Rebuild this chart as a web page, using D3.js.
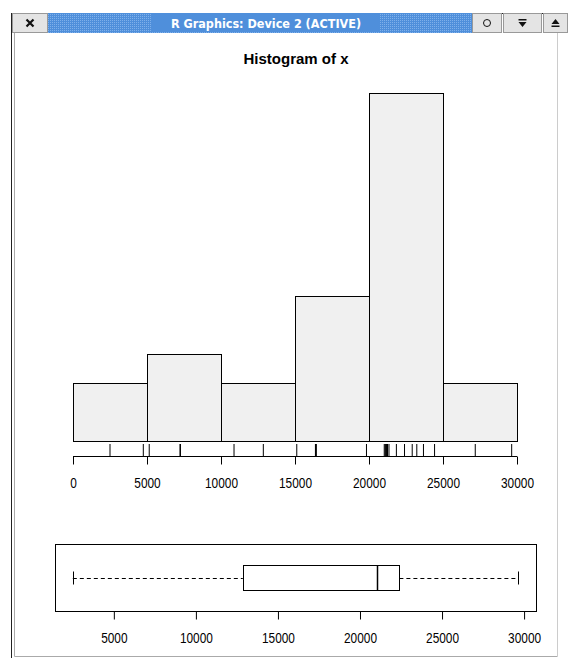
<!DOCTYPE html>
<html>
	<head>
		<meta charset="utf-8">
		<style>
			body { margin: 0; background: #fff; }
			svg { display: block; }
		</style>
	</head>
	<body>
		<script src="https://cdn.jsdelivr.net/npm/d3@7/dist/d3.min.js" charset="utf-8"></script>
		<script>
			// sample values
			var values = [2500, 4750, 5150, 7230, 7260, 10880, 12860, 15120, 16380, 16410, 16440, 19830,
				21030, 21090, 21130, 21180, 21250, 21350, 21850, 22400, 22920, 23230, 23680, 24430, 27180, 29640];
			var breaks = [0, 5000, 10000, 15000, 20000, 25000, 30000];
			var histTicks = [0, 5000, 10000, 15000, 20000, 25000, 30000];
			var boxTicks = [5000, 10000, 15000, 20000, 25000, 30000];
			var windowTitle = "R Graphics: Device 2 (ACTIVE)";
			var plotTitle = "Histogram of x";

			var width = 568;
			var height = 658;
			var labelFont = "'Liberation Sans', Arial, sans-serif";

			var svg = d3.select("body")
						.append("svg")
						.attr("width", width)
						.attr("height", height);

			//window frame
			var defs = svg.append("defs");
			var pat = defs.append("pattern")
						.attr("id", "dots")
						.attr("width", 2)
						.attr("height", 2)
						.attr("patternUnits", "userSpaceOnUse");
			pat.append("rect").attr("width", 2).attr("height", 2).attr("fill", "#4f8fdb");
			pat.append("rect").attr("width", 1).attr("height", 1).attr("fill", "#7fb0ea");

			svg.append("rect")
				.attr("x", 11.5).attr("y", 13.5)
				.attr("width", 560).attr("height", 650)
				.attr("fill", "#fff").attr("stroke", "#222");
			svg.append("line")
				.attr("x1", 14.5).attr("x2", 14.5).attr("y1", 33).attr("y2", 656.5)
				.attr("stroke", "#aaa");
			svg.append("line")
				.attr("x1", 14.5).attr("x2", 557.5).attr("y1", 656.5).attr("y2", 656.5)
				.attr("stroke", "#aaa");
			svg.append("line")
				.attr("x1", 557.5).attr("x2", 557.5).attr("y1", 33).attr("y2", 656.5)
				.attr("stroke", "#ccc");

			//title bar
			svg.append("rect")
				.attr("x", 48).attr("y", 13)
				.attr("width", 424).attr("height", 20)
				.attr("fill", "url(#dots)");
			svg.append("rect")
				.attr("x", 152).attr("y", 14)
				.attr("width", 228).attr("height", 18)
				.attr("fill", "#4f8fdb");
			svg.append("text")
				.attr("x", 266).attr("y", 28)
				.attr("text-anchor", "middle")
				.attr("fill", "#fff")
				.attr("font-family", "'DejaVu Sans Condensed', sans-serif")
				.attr("font-weight", "bold")
				.attr("font-size", "12.5px")
				.text(windowTitle);

			var buttons = [
				{x: 12, w: 36, t: "close"},
				{x: 472, w: 30, t: "circle"},
				{x: 503, w: 39, t: "down"},
				{x: 543, w: 25, t: "up"}
			];
			var btn = svg.selectAll("g.btn").data(buttons).enter()
						.append("g").attr("class", "btn")
						.attr("transform", function(d) {return "translate(" + (d.x + d.w/2) + ",23)";});
			btn.append("rect")
				.attr("x", function(d) {return -d.w/2 + 0.5;})
				.attr("y", -9.5)
				.attr("width", function(d) {return d.w - 1;})
				.attr("height", 19)
				.attr("fill", "#e4e4e4")
				.attr("stroke", "#999");
			btn.each(function(d) {
				var g = d3.select(this);
				if (d.t == "close") {
					g.append("path").attr("d", "M-3.5,-3.5L3.5,3.5M3.5,-3.5L-3.5,3.5")
						.attr("stroke", "#111").attr("stroke-width", 2.2);
				} else if (d.t == "circle") {
					g.append("circle").attr("r", 3.5).attr("fill", "none").attr("stroke", "#111");
				} else if (d.t == "down") {
					g.append("path").attr("d", "M-4,-4H4V-2.5H-4Z M-4,-1H4L0,4Z").attr("fill", "#111");
				} else {
					g.append("path").attr("d", "M-4,1H4L0,-4Z M-4,2.5H4V4H-4Z").attr("fill", "#111");
				}
			});

			//histogram
			var x = d3.scaleLinear().domain([0, 30000]).range([73, 517]);
			var bins = d3.bin().domain([0, 30000]).thresholds(breaks.slice(1, -1))(values);
			var y = d3.scaleLinear().domain([0, 12]).range([441, 93]);

			svg.append("text")
				.attr("x", 296).attr("y", 64)
				.attr("text-anchor", "middle")
				.attr("font-family", "'Liberation Sans', Arial, sans-serif")
				.attr("font-weight", "bold")
				.attr("font-size", "15px")
				.text(plotTitle);

			svg.selectAll("rect.bar")
				.data(bins)
				.enter()
				.append("rect")
				.attr("class", "bar")
				.attr("x", function(d) {return Math.round(x(d.x0)) + 0.5;})
				.attr("y", function(d) {return Math.round(y(d.length)) + 0.5;})
				.attr("width", function(d) {return Math.round(x(d.x1)) - Math.round(x(d.x0));})
				.attr("height", function(d) {return Math.round(y(0)) - Math.round(y(d.length));})
				.attr("fill", "#f0f0f0")
				.attr("stroke", "#000");

			//rug
			svg.selectAll("line.rug")
				.data(values)
				.enter()
				.append("line")
				.attr("class", "rug")
				.attr("x1", function(d) {return x(d);})
				.attr("x2", function(d) {return x(d);})
				.attr("y1", 444)
				.attr("y2", 456)
				.attr("stroke", "#000")
				.attr("stroke-width", 1);

			var histAxis = svg.append("g")
						.attr("transform", "translate(0,456.5)")
						.call(d3.axisBottom(x).tickValues(histTicks).tickSize(8).tickFormat(d3.format("d")));

			//boxplot
			var ext = d3.extent(values);
			var pad = (ext[1] - ext[0]) * 0.04;
			var bx = d3.scaleLinear().domain([ext[0] - pad, ext[1] + pad]).range([55, 536]);
			var sorted = values.slice().sort(d3.ascending);
			var n = sorted.length;
			// Tukey hinges like R's fivenum
			var n4 = Math.floor((n + 3) / 2) / 2;
			var idx = [1, n4, (n + 1) / 2, n + 1 - n4, n];
			var five = idx.map(function(i) {
				return 0.5 * (sorted[Math.floor(i) - 1] + sorted[Math.ceil(i) - 1]);
			});
			var by = d3.scaleLinear().domain([0, 1]).range([611, 544]);

			svg.append("rect")
				.attr("x", 55.5).attr("y", 544.5)
				.attr("width", 481).attr("height", 67)
				.attr("fill", "none")
				.attr("stroke", "#000");

			var mid = Math.round(by(0.5)) + 0.5;
			var boxTop = Math.round(by(0.69)) + 0.5;
			var boxBot = Math.round(by(0.31)) + 0.5;
			var stapTop = Math.round(by(0.595)) + 0.5;
			var stapBot = Math.round(by(0.405)) + 0.5;

			[[five[0], five[1]], [five[3], five[4]]].forEach(function(w) {
				svg.append("line")
					.attr("x1", bx(w[0])).attr("x2", bx(w[1]))
					.attr("y1", mid).attr("y2", mid)
					.attr("stroke", "#000")
					.attr("stroke-dasharray", "4,3");
			});
			[five[0], five[4]].forEach(function(v) {
				svg.append("line")
					.attr("x1", Math.round(bx(v)) + 0.5).attr("x2", Math.round(bx(v)) + 0.5)
					.attr("y1", stapTop).attr("y2", stapBot)
					.attr("stroke", "#000");
			});
			svg.append("rect")
				.attr("x", Math.round(bx(five[1])) + 0.5)
				.attr("y", boxTop)
				.attr("width", Math.round(bx(five[3])) - Math.round(bx(five[1])))
				.attr("height", boxBot - boxTop)
				.attr("fill", "#fff")
				.attr("stroke", "#000");
			svg.append("line")
				.attr("x1", Math.round(bx(five[2])) + 0.5).attr("x2", Math.round(bx(five[2])) + 0.5)
				.attr("y1", boxTop).attr("y2", boxBot)
				.attr("stroke", "#000")
				.attr("stroke-width", 1.5);

			var boxAxis = svg.append("g")
						.attr("transform", "translate(0,611.5)")
						.call(d3.axisBottom(bx).tickValues(boxTicks).tickSize(8).tickFormat(d3.format("d")));
			boxAxis.select(".domain").remove();

			//narrow, tall tick labels like the X11 bitmap font
			[histAxis, boxAxis].forEach(function(a) {
				a.selectAll("text")
					.attr("font-family", labelFont)
					.attr("font-size", "15px")
					.attr("fill", "#000")
					.attr("y", 31)
					.attr("dy", 0)
					.attr("textLength", function(d) {return String(d).length * 6.6;})
					.attr("lengthAdjust", "spacingAndGlyphs");
				a.selectAll("line, path").attr("stroke", "#000");
			});
			histAxis.select(".domain").attr("d", "M" + x(0) + ",0H" + x(30000));
		</script>
	</body>
</html>
